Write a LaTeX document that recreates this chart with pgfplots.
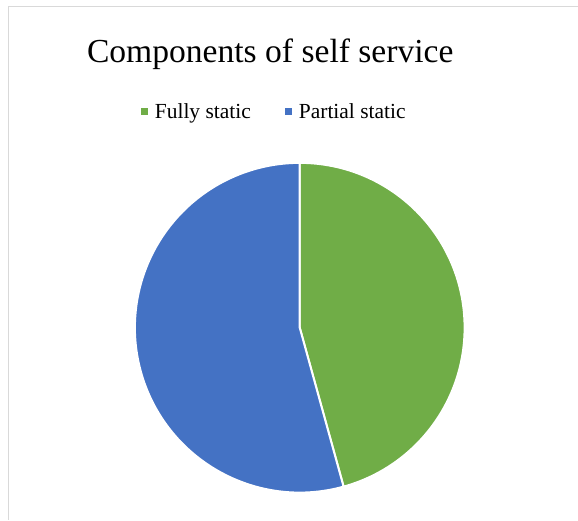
\documentclass[border=0pt]{standalone}
\usepackage{pgfplots}
\pgfplotsset{compat=1.18}
\usepackage{pgfplotstable}
\usepackage{fontspec}
\setmainfont{Liberation Serif}
\definecolor{pgreen}{HTML}{70AD47}
\definecolor{pblue}{HTML}{4472C4}
\definecolor{framegray}{HTML}{D9D9D9}
% x y : pie centre; v : value; c : cumulative value before this slice
\pgfplotstableread{
x y v c
300 192 16 0
}\fullystatic
\pgfplotstableread{
x y v c
300 192 19 16
}\partialstatic
\newcommand\pietotal{35}
\newcommand\pieR{165pt}
\begin{document}
\begin{tikzpicture}
\begin{axis}[
  width=578pt, height=520pt, scale only axis,
  xmin=0, xmax=578, ymin=0, ymax=520,
  axis lines=none, clip=false,
  legend columns=2,
  legend cell align=left,
  legend style={at={(axis cs:274.5,408.5)}, anchor=center, draw=none, fill=none,
    font=\fontsize{21.5}{24}\selectfont,
    /tikz/every even column/.append style={column sep=32pt}},
]
\path (axis cs:0,0) rectangle (axis cs:578,520);
\draw[framegray, line width=1pt] (axis cs:8.5,0) -- (axis cs:8.5,513.3) -- (axis cs:578,513.3);
\node[font=\fontsize{33.6}{40}\selectfont, anchor=base] at (axis cs:270.5,457.3) {Components of self service};

\addplot[only marks, scatter, mark=*, mark size=0pt, mark options={draw=none,fill=none},
  visualization depends on={\thisrow{v}\as\val},
  visualization depends on={\thisrow{c}\as\cum},
  scatter/@pre marker code/.code={%
    \pgfmathsetmacro\angA{90-360*\cum/\pietotal}%
    \pgfmathsetmacro\angB{90-360*(\cum+\val)/\pietotal}%
    \filldraw[fill=pgreen, draw=white, line width=2pt, line join=round] (0,0) -- (\angA:\pieR) arc[start angle=\angA, end angle=\angB, radius=\pieR] -- cycle;
  },
  scatter/@post marker code/.code={},
  legend image code/.code={\fill[pgreen, draw=none] (0pt,-3.5pt) rectangle (7pt,3.5pt); \path[draw=none, fill=none] (0pt,-1pt) rectangle (12pt,1pt);},
] table[x=x, y=y] {\fullystatic};
\addlegendentry{Fully static}

\addplot[only marks, scatter, mark=*, mark size=0pt, mark options={draw=none,fill=none},
  visualization depends on={\thisrow{v}\as\val},
  visualization depends on={\thisrow{c}\as\cum},
  scatter/@pre marker code/.code={%
    \pgfmathsetmacro\angA{90-360*\cum/\pietotal}%
    \pgfmathsetmacro\angB{90-360*(\cum+\val)/\pietotal}%
    \filldraw[fill=pblue, draw=white, line width=2pt, line join=round] (0,0) -- (\angA:\pieR) arc[start angle=\angA, end angle=\angB, radius=\pieR] -- cycle;
  },
  scatter/@post marker code/.code={},
  legend image code/.code={\fill[pblue, draw=none] (0pt,-3.5pt) rectangle (7pt,3.5pt); \path[draw=none, fill=none] (0pt,-1pt) rectangle (12pt,1pt);},
] table[x=x, y=y] {\partialstatic};
\addlegendentry{Partial static}
\end{axis}
\end{tikzpicture}
\end{document}
